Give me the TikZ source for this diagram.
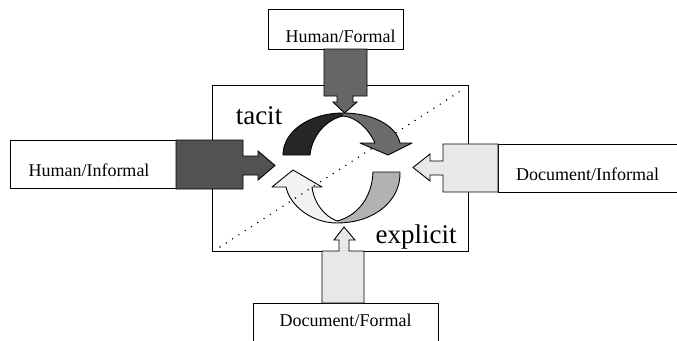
\documentclass[tikz,border=0pt]{standalone}
\usepackage{fontspec}
\setmainfont{Liberation Serif}
\begin{document}
\begin{tikzpicture}[x=1pt,y=-1pt,
  box/.style={draw=black, line width=0.9pt, fill=white},
  lbl/.style={font=\fontsize{18}{20}\selectfont, anchor=base, inner sep=0pt},
  big/.style={font=\fontsize{27}{30}\selectfont, anchor=base, inner sep=0pt},
  darkblk/.style={draw=black, line width=0.9pt, fill=black!68},
  darkblkb/.style={draw=black, line width=0.9pt, fill=black!60},
  lightblk/.style={draw=black, line width=0.9pt, fill=black!9},
  cyc/.style={draw=black, line width=0.9pt, line join=round},
  dotline/.style={line width=1.6pt, line cap=round, dash pattern=on 0pt off 7.5pt}]

\useasboundingbox (0,0) rectangle (677,340);
\clip (0,0) rectangle (677,340);
\fill[white] (0,0) rectangle (677,340);

% main square
\draw[box] (212,85) coordinate (mainNW) rectangle (468,251) coordinate (mainSE);

% text boxes
\draw[box] (268,9) rectangle (403,49);
\draw[box] (10,140) rectangle (176,188);
\draw[box] (498,144) rectangle (690,192);
\draw[box] (253,303) rectangle (438,350);

% block arrows (square + arrow)
\draw[darkblk] (176,140) -- (243,140) -- (243,156) -- (258,156) -- (258,151) -- (275,165.5)
   -- (258,180) -- (258,175) -- (243,175) -- (243,189) -- (176,189) -- cycle;
\draw[darkblkb] (324,49) -- (367,49) -- (367,96) -- (353,96) -- (353,102) -- (357,102)
   -- (344.5,113) -- (333,102) -- (337,102) -- (337,96) -- (324,96) -- cycle;
\draw[lightblk] (498,144) -- (443,144) -- (443,161) -- (430,161) -- (430,154) -- (413,167.5)
   -- (430,181) -- (430,175) -- (443,175) -- (443,192) -- (498,192) -- cycle;
\draw[lightblk] (322,303) -- (322,251) -- (339,251) -- (339,240) -- (334,240) -- (344,227)
   -- (355,240) -- (349,240) -- (349,251) -- (364,251) -- (364,303) -- cycle;

% cycle arrows
\def\lightpath{(400,172) .. controls (401,200) and (375,223) .. (337,223)
   .. controls (312,223) and (290,206) .. (286,187)
   -- (272,187) -- (293,170) -- (322,187) -- (312,187)
   .. controls (314,203) and (324,216) .. (337,221)
   .. controls (357,216) and (372,198) .. (373,172) -- cycle}
\def\darkpath{(283,155) .. controls (283,131) and (310,113) .. (343,113)
   .. controls (372,113) and (396,125) .. (400,143)
   -- (412,143) -- (388,155) -- (360,143) -- (375,143)
   .. controls (368,128) and (356,117) .. (343,116)
   .. controls (328,119) and (312,134) .. (310,155) -- cycle}

\begin{scope}
  \clip (0,0) rectangle (337,340);
  \fill[black!5] \lightpath;
\end{scope}
\begin{scope}
  \clip (337,0) rectangle (677,340);
  \fill[black!30] \lightpath;
\end{scope}
\draw[cyc] \lightpath;

% dotted diagonal
\coordinate (dA) at (220,247);
\coordinate (dB) at (465,88);
\draw[dotline] (dA) -- (dB);

\begin{scope}
  \clip (0,0) rectangle (343,340);
  \fill[black!85] \darkpath;
\end{scope}
\begin{scope}
  \clip (343,0) rectangle (677,340);
  \fill[black!58] \darkpath;
\end{scope}
\draw[cyc] \darkpath;

% labels
\node[lbl] (hf) at (340.5,42) {Human/Formal};
\node[lbl] (hi) at (89,176.5) {Human/Informal};
\node[lbl] (di) at (587.5,180) {Document/Informal};
\node[lbl] (df) at (345.5,326.5) {Document/Formal};
\node[big] (tacit) at (259,124) {tacit};
\node[big] (explicit) at (416,243) {explicit};
\end{tikzpicture}
\end{document}
